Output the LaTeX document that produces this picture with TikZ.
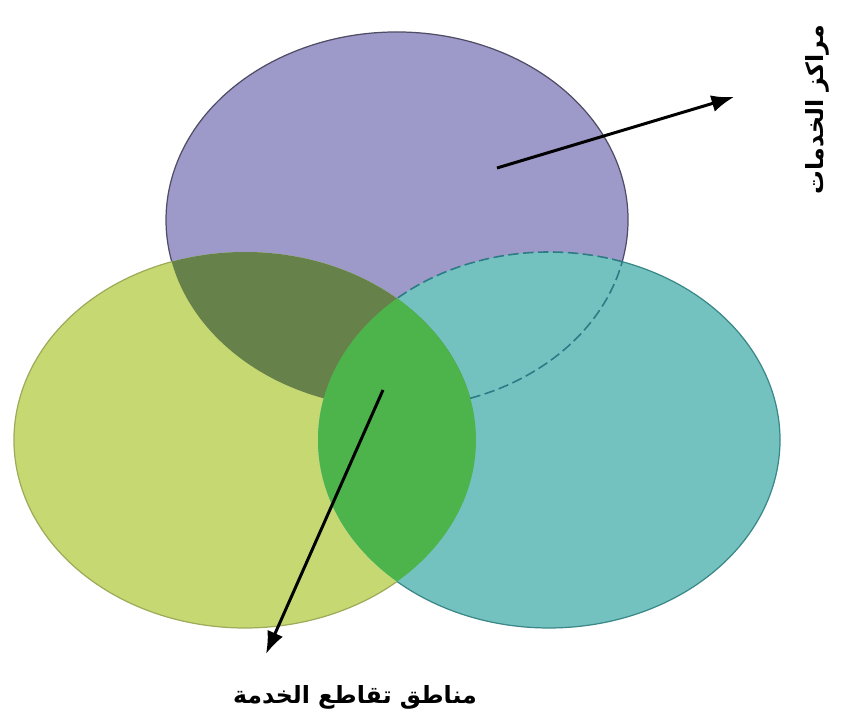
\documentclass[tikz,border=0pt]{standalone}
\usepackage{fontspec}
\usepackage{tikz}
\usetikzlibrary{arrows.meta, positioning}
\TeXXeTstate=1
\newfontfamily\arabicfont[Script=Arabic]{DejaVu Sans}
\definecolor{mpurple}{HTML}{9D99C8}
\definecolor{myellow}{HTML}{C6D872}
\definecolor{mteal}{HTML}{74C2C0}
\definecolor{molive}{HTML}{66824A}
\definecolor{mgreen}{HTML}{4DB34B}
\definecolor{mrimpurple}{HTML}{4E4C66}
\definecolor{mrimyellow}{HTML}{9EAB5A}
\definecolor{mrimteal}{HTML}{3A8788}
\definecolor{mdash}{HTML}{2C7B85}
\tikzset{
  rim/.style={line width=0.7pt},
  lensline/.style={mdash, line width=0.9pt, dash pattern=on 6pt off 2.5pt},
  arr/.style={-{Latex[length=0.45cm, width=0.34cm]}, line width=1.7pt, black},
  lbl/.style={font=\arabicfont\bfseries\fontsize{13.5}{15}\selectfont, inner sep=1pt},
  oval/.style={x radius=231, y radius=188},
}
\begin{document}
\begin{tikzpicture}[x=0.02cm, y=0.02cm]
  \useasboundingbox (0,0) rectangle (842,722);
  \coordinate (P) at (397,502);
  \coordinate (Y) at (245,282);
  \coordinate (T) at (549,282);

  % the three service areas
  \fill[mpurple] (P) ellipse [oval];
  \fill[myellow] (Y) ellipse [oval];
  \fill[mteal] (T) ellipse [oval];

  % overlaps with the left area
  \begin{scope}
    \clip (Y) ellipse [oval];
    \fill[molive] (P) ellipse [oval];
    \fill[mgreen] (T) ellipse [oval];
  \end{scope}

  % outer rims
  \draw[rim, mrimpurple] ([shift={(-12.8:231 and 188)}]P)
    arc[start angle=-12.8, end angle=192.8, oval];
  \draw[rim, mrimyellow] ([shift={(108.5:231 and 188)}]Y)
    arc[start angle=108.5, end angle=311.1, oval];
  \draw[rim, mrimteal] ([shift={(-131.1:231 and 188)}]T)
    arc[start angle=-131.1, end angle=71.5, oval];

  % hidden rims inside the top/right lens
  \draw[lensline] ([shift={(288.5:231 and 188)}]P)
    arc[start angle=288.5, end angle=347.2, oval];
  \draw[lensline] ([shift={(71.5:231 and 188)}]T)
    arc[start angle=71.5, end angle=131.1, oval];

  % labels
  \node[lbl, rotate=90] (centres) at (817,612)
    {\beginR مراكز الخدمات\endR};
  \node[lbl] (zones) at (355,25)
    {\beginR مناطق تقاطع الخدمة\endR};

  \coordinate (c1) at (497,554);
  \coordinate (c1tip) at (734,625);
  \coordinate (c2) at (383,332);
  \coordinate (c2tip) at (266,68);
  \draw[arr] (c1) -- (c1tip);
  \draw[arr] (c2) -- (c2tip);
\end{tikzpicture}
\end{document}
